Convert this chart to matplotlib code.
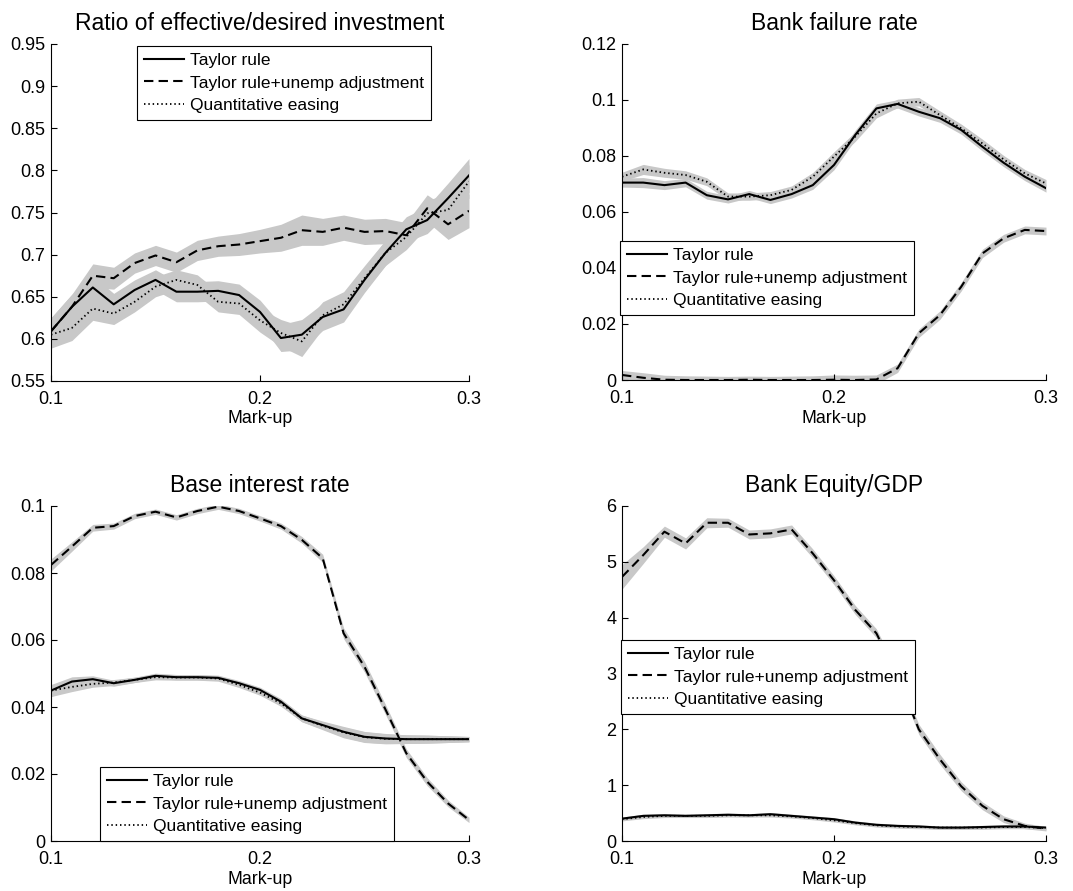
import matplotlib
matplotlib.use("Agg")
import matplotlib.pyplot as plt
import numpy as np

plt.rcParams['font.family'] = ['Liberation Sans', 'DejaVu Sans']

# Mark-up grid
markup = [0.10, 0.11, 0.12, 0.13, 0.14, 0.15, 0.16, 0.17, 0.18, 0.19, 0.20,
          0.21, 0.22, 0.23, 0.24, 0.25, 0.26, 0.27, 0.28, 0.29, 0.30]

series_labels = ["Taylor rule", "Taylor rule+unemp adjustment", "Quantitative easing"]

# Ratio of effective/desired investment
inv_taylor = [0.609, 0.638, 0.661, 0.641, 0.658, 0.670, 0.656, 0.656, 0.657, 0.652, 0.632,
              0.601, 0.605, 0.626, 0.635, 0.670, 0.702, 0.730, 0.741, 0.767, 0.794]
inv_unemp = [0.609, 0.638, 0.675, 0.672, 0.690, 0.699, 0.691, 0.705, 0.710, 0.712, 0.716,
             0.720, 0.729, 0.727, 0.732, 0.727, 0.728, 0.723, 0.755, 0.736, 0.752]
inv_qe = [0.605, 0.613, 0.636, 0.630, 0.644, 0.662, 0.670, 0.664, 0.644, 0.642, 0.622,
          0.607, 0.597, 0.628, 0.641, 0.672, 0.702, 0.721, 0.749, 0.753, 0.787]
inv_band = [0.016, 0.015, 0.014, 0.013, 0.012, 0.012, 0.012, 0.012, 0.012, 0.013, 0.014,
            0.016, 0.018, 0.016, 0.015, 0.015, 0.015, 0.015, 0.016, 0.018, 0.020]

# Bank failure rate
fail_taylor = [0.0705, 0.0705, 0.0696, 0.0705, 0.0660, 0.0645, 0.0664, 0.0643, 0.0664, 0.0696, 0.0768,
               0.0875, 0.0970, 0.0986, 0.0958, 0.0935, 0.0893, 0.0833, 0.0776, 0.0726, 0.0685]
fail_unemp = [0.0018, 0.0008, 0.0001, 0.0000, 0.0000, 0.0000, 0.0001, 0.0000, 0.0000, 0.0000, 0.0001,
              0.0000, 0.0002, 0.0042, 0.0167, 0.0232, 0.0333, 0.0452, 0.0506, 0.0536, 0.0532]
fail_qe = [0.0726, 0.0752, 0.0740, 0.0732, 0.0708, 0.0655, 0.0655, 0.0660, 0.0679, 0.0726, 0.0798,
           0.0869, 0.0952, 0.0988, 0.0994, 0.0946, 0.0899, 0.0845, 0.0788, 0.0738, 0.0702]
fail_band = [0.0016, 0.0018, 0.0016, 0.0015, 0.0014, 0.0013, 0.0013, 0.0013, 0.0014, 0.0015, 0.0017,
             0.0017, 0.0016, 0.0015, 0.0015, 0.0015, 0.0015, 0.0015, 0.0014, 0.0014, 0.0014]

# Base interest rate
rate_taylor = [0.0449, 0.0476, 0.0483, 0.0471, 0.0481, 0.0493, 0.0489, 0.0489, 0.0487, 0.0471, 0.0451,
               0.0416, 0.0366, 0.0346, 0.0326, 0.0311, 0.0306, 0.0304, 0.0304, 0.0304, 0.0304]
rate_unemp = [0.0824, 0.0879, 0.0935, 0.0940, 0.0970, 0.0983, 0.0966, 0.0985, 0.0998, 0.0985, 0.0963,
              0.0940, 0.0899, 0.0844, 0.0620, 0.0520, 0.0393, 0.0262, 0.0177, 0.0112, 0.0063]
rate_qe = [0.0449, 0.0460, 0.0469, 0.0473, 0.0481, 0.0489, 0.0488, 0.0488, 0.0485, 0.0466, 0.0443,
           0.0411, 0.0366, 0.0344, 0.0324, 0.0310, 0.0305, 0.0304, 0.0304, 0.0304, 0.0304]
rate_band = [0.0018, 0.0014, 0.0010, 0.0009, 0.0008, 0.0008, 0.0008, 0.0008, 0.0008, 0.0008, 0.0008,
             0.0009, 0.0010, 0.0012, 0.0016, 0.0016, 0.0015, 0.0013, 0.0012, 0.0010, 0.0008]

# Bank Equity/GDP
eq_taylor = [0.40, 0.45, 0.46, 0.45, 0.46, 0.47, 0.46, 0.48, 0.45, 0.42, 0.39,
             0.33, 0.29, 0.27, 0.26, 0.24, 0.24, 0.25, 0.26, 0.26, 0.24]
eq_unemp = [4.73, 5.12, 5.54, 5.33, 5.70, 5.70, 5.49, 5.51, 5.58, 5.15, 4.67,
            4.14, 3.72, 2.95, 2.00, 1.46, 0.98, 0.63, 0.39, 0.27, 0.22]
eq_qe = [0.39, 0.43, 0.45, 0.45, 0.45, 0.46, 0.46, 0.46, 0.44, 0.41, 0.37,
         0.32, 0.28, 0.26, 0.25, 0.24, 0.24, 0.24, 0.25, 0.25, 0.23]
eq_band_low = [0.03, 0.03, 0.03, 0.03, 0.03, 0.03, 0.03, 0.03, 0.03, 0.03, 0.03,
               0.03, 0.03, 0.03, 0.03, 0.03, 0.03, 0.03, 0.03, 0.03, 0.03]
eq_band_high = [0.22, 0.15, 0.10, 0.10, 0.09, 0.08, 0.08, 0.08, 0.08, 0.08, 0.08,
                0.08, 0.08, 0.08, 0.09, 0.09, 0.08, 0.07, 0.06, 0.05, 0.04]

panels = [
    dict(title="Ratio of effective/desired investment",
         lines=(inv_taylor, inv_unemp, inv_qe), bands=(inv_band, inv_band, inv_band),
         ylim=(0.55, 0.95), yticks=[0.55, 0.6, 0.65, 0.7, 0.75, 0.8, 0.85, 0.9, 0.95],
         rect=(51, 44, 469, 381), legend_at=(137, 46)),
    dict(title="Bank failure rate",
         lines=(fail_taylor, fail_unemp, fail_qe), bands=(fail_band, fail_band, fail_band),
         ylim=(0, 0.12), yticks=[0, 0.02, 0.04, 0.06, 0.08, 0.1, 0.12],
         rect=(622, 44, 1046, 380), legend_at=(620, 241)),
    dict(title="Base interest rate",
         lines=(rate_taylor, rate_unemp, rate_qe), bands=(rate_band, rate_band, rate_band),
         ylim=(0, 0.1), yticks=[0, 0.02, 0.04, 0.06, 0.08, 0.1],
         rect=(51, 506, 469, 841), legend_at=(100, 767)),
    dict(title="Bank Equity/GDP",
         lines=(eq_taylor, eq_unemp, eq_qe), bands=(eq_band_low, eq_band_high, eq_band_low),
         ylim=(0, 6), yticks=[0, 1, 2, 3, 4, 5, 6],
         rect=(622, 506, 1046, 841), legend_at=(621, 640)),
]

W, H = 1073, 891
fig = plt.figure(figsize=(W / 100, H / 100), dpi=100)

styles = [dict(linestyle="-", linewidth=1.5),
          dict(linestyle=(0, (4.5, 2.5)), linewidth=1.5),
          dict(linestyle=(0, (0.8, 1.6)), linewidth=1.3)]
band_color = "#c8c8c8"


def fmt(v):
    return ("%.4f" % v).rstrip("0").rstrip(".")


x = np.array(markup)
for p in panels:
    l, t, r, b = p["rect"]
    ax = fig.add_axes([l / W, 1 - b / H, (r - l) / W, (b - t) / H])
    for vals, band in zip(p["lines"], p["bands"]):
        v = np.array(vals)
        hw = np.array(band)
        ax.fill_between(x, v - hw, v + hw, color=band_color, linewidth=0, zorder=1)
    handles = []
    for vals, st, lab in zip(p["lines"], styles, series_labels):
        h, = ax.plot(x, vals, color="black", label=lab, zorder=3, **st)
        handles.append(h)
    ax.set_xlim(0.1, 0.3)
    ax.set_ylim(*p["ylim"])
    ax.set_xticks([0.1, 0.2, 0.3])
    ax.set_xticklabels(["0.1", "0.2", "0.3"])
    ax.set_yticks(p["yticks"])
    ax.set_yticklabels([fmt(v) for v in p["yticks"]])
    for side in ("top", "right"):
        ax.spines[side].set_visible(False)
    for side in ("left", "bottom"):
        ax.spines[side].set_linewidth(0.8)
    ax.tick_params(direction="in", length=4, width=0.8, labelsize=13)
    ax.tick_params(axis="y", pad=4)
    ax.tick_params(axis="x", pad=7)
    ax.set_title(p["title"], fontsize=16.5, pad=10)
    ax.set_xlabel("Mark-up", fontsize=12.8, labelpad=2)
    ax.patch.set_alpha(0)
    lx, ly = p["legend_at"]
    leg = ax.legend(handles=handles, loc="upper left", bbox_to_anchor=(lx / W, 1 - ly / H),
                    bbox_transform=fig.transFigure, borderaxespad=0, fancybox=False,
                    framealpha=1, edgecolor="black", fontsize=12.5, handlelength=2.3,
                    handletextpad=0.35, labelspacing=0.42, borderpad=0.4)
    leg.get_frame().set_linewidth(0.8)
    leg.set_zorder(5)

fig.savefig("out.png", dpi=100)
